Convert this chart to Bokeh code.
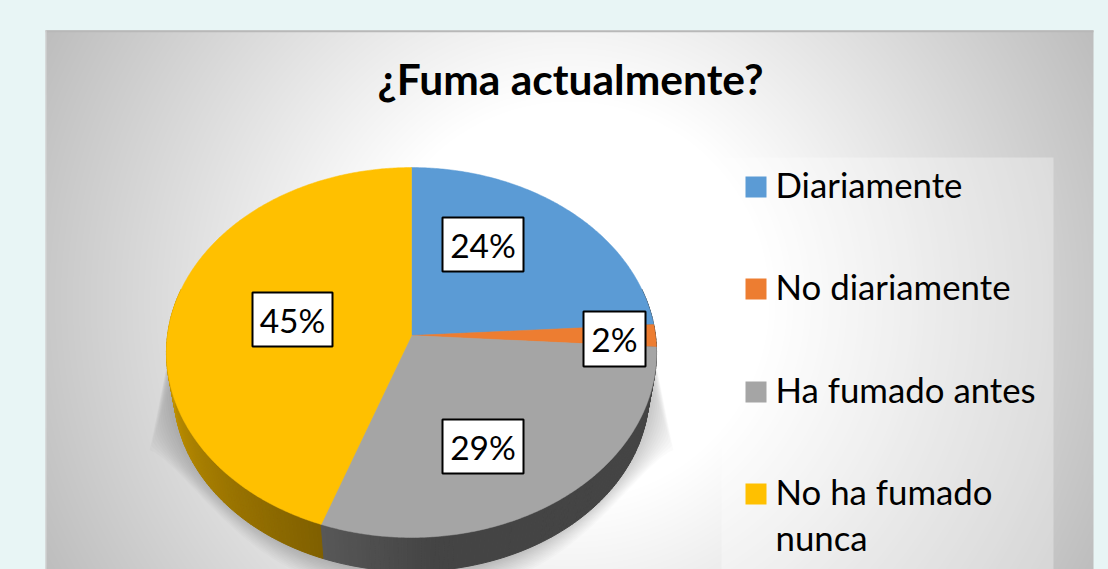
import numpy as np
from bokeh.plotting import figure
from bokeh.core.properties import value
from bokeh.embed import file_html
from bokeh.resources import INLINE

title = "¿Fuma actualmente?"
categories = ["Diariamente", "No diariamente", "Ha fumado antes", "No ha fumado nunca"]
legend_lines = [["Diariamente"], ["No diariamente"], ["Ha fumado antes"], ["No ha fumado", "nunca"]]
values = [24.05, 1.95, 29.49, 44.51]
colors = ["#5b9bd5", "#ed7d31", "#a5a5a5", "#ffc000"]

FONT = value("Lato")
PAGE = "#e8f5f5"
PX0, PX1, PY0, PY1 = 45, 1093, 30, 569
CX, CY = 411, 335
A, B, K = 244.0, 183.4, 0.0919
DEPTH, SHRINK = 40, 0.97


def top(theta):
    t = np.radians(theta)
    u, v = np.sin(t), -np.cos(t)
    w = 1 - K * v
    return A * u / w, B * v / w


p = figure(width=1108, height=569, x_range=(0, 1108), y_range=(569, 0),
           output_backend="svg", toolbar_location=None, min_border=0,
           outline_line_color=None, border_fill_color=PAGE, background_fill_color=PAGE)
p.axis.visible = False
p.grid.visible = False

# panel gradient (white centre to grey corners)
xx, yy = np.meshgrid(np.arange(PX0, PX1), np.arange(PY0, PY1))
r = np.hypot(xx - 569, yy - 300)
g = np.clip(255 - 0.168 * np.clip(r - 200, 0, None), 0, 255).astype(np.uint8)
img = np.zeros(g.shape, dtype=np.uint32)
img[:] = (255 << 24) | (g.astype(np.uint32) << 16) | (g.astype(np.uint32) << 8) | g.astype(np.uint32)
p.image_rgba(image=[img], x=PX0, y=PY0, dw=PX1 - PX0, dh=PY1 - PY0)
p.line([PX0, PX1], [PY0 + 0.8, PY0 + 0.8], line_color="#b8b8b8", line_width=2)
p.line([PX0 + 0.5, PX0 + 0.5], [PY0, PY1], line_color="#d8d8d8", line_width=1)

# legend backdrop
p.quad(left=721, right=1053, top=157, bottom=569, fill_color="white", fill_alpha=0.32, line_color=None)

# soft shadow under the pie
phi = np.radians(np.linspace(0, 180, 121))
N = 16
for i in range(N):
    f = i / (N - 1)
    c, s = np.cos(phi), np.sin(phi)
    ox = np.sign(c) * np.abs(c) ** 0.7 * 262
    oy = 450 + 140 * np.abs(s) ** 2.9
    ix = c * 238
    iy = s * 196 + 375
    sx = CX + ix + (ox - ix) * (1 - f)
    sy = iy + (oy - iy) * (1 - f)
    tw = 236
    sx = np.r_[CX - tw, sx[::-1], CX + tw]
    sy = np.r_[320, sy[::-1], 320]
    p.patch(sx, sy, fill_color="#000000", fill_alpha=0.017, line_color=None)

# pie side wall
edges = np.r_[0, np.cumsum(values)] * 3.6
strips_x, strips_y, strips_c = [], [], []
thetas = np.linspace(75, 285, 211)


def lerp(a, b, t):
    return "#%02x%02x%02x" % tuple(int(a[i] + (b[i] - a[i]) * t) for i in range(3))


for a0, a1 in zip(thetas[:-1], thetas[1:]):
    m = (a0 + a1) / 2
    x0, y0 = top(a0)
    x1, y1 = top(a1)
    px = [CX + x0, CX + x1, CX + x1 * SHRINK, CX + x0 * SHRINK]
    py = [CY + y0, CY + y1, CY + y1 * SHRINK + DEPTH, CY + y0 * SHRINK + DEPTH]
    if m < edges[2]:
        col = "#444444"
    elif m < edges[3]:
        t2 = np.clip((edges[3] - m) / 25.0, 0, 1)
        col = lerp((0x58, 0x58, 0x58), (0x44, 0x44, 0x44), t2)
    else:
        t = np.clip((m - edges[3]) / (270 - edges[3]), 0, 1)
        col = lerp((0x80, 0x60, 0x00), (0xcc, 0x9a, 0x00), t)
    strips_x.append(px)
    strips_y.append(py)
    strips_c.append(col)
p.patches(strips_x, strips_y, fill_color=strips_c, line_color=strips_c, line_width=1)

# pie top face
for a0, a1, col in zip(edges[:-1], edges[1:], colors):
    th = np.linspace(a0, a1, max(int(a1 - a0), 2) * 2)
    x, y = top(th)
    p.patch(np.r_[CX, CX + x], np.r_[CY, CY + y], fill_color=col, line_color=col, line_width=0.5)

# data labels
boxes = [(442, 523, 217, 271), (583, 645, 311, 366), (442, 523, 419, 473), (252, 332, 292, 346)]
for (l, rr, t, b), v in zip(boxes, values):
    p.quad(left=l, right=rr, top=t, bottom=b, fill_color="white", line_color="black", line_width=2)
    p.text([(l + rr) / 2], [(t + b) / 2], text=[f"{round(v)}%"], text_font=FONT, text_font_size="33.5px",
           text_align="center", text_baseline="middle", text_color="black")

# title
p.text([570], [78], text=[title], text_font=FONT, text_font_style="bold", text_font_size="42.5px",
       text_align="center", text_baseline="middle", text_color="black")

# legend
ly = [197, 299, 402, 504]
for lines, y0, col in zip(legend_lines, ly, colors):
    p.quad(left=745, right=766, top=y0 - 21, bottom=y0, fill_color=col, line_color=None)
    for j, line in enumerate(lines):
        p.text([775], [y0 - 13 + j * 46], text=[line], text_font=FONT, text_font_size="34.8px",
               text_align="left", text_baseline="middle", text_color="black")

template = "{% block preamble %}<style>html,body{background:" + PAGE + ";margin:0;}</style>{% endblock %}"
open("out.html", "w").write(file_html(p, INLINE, template=template))
